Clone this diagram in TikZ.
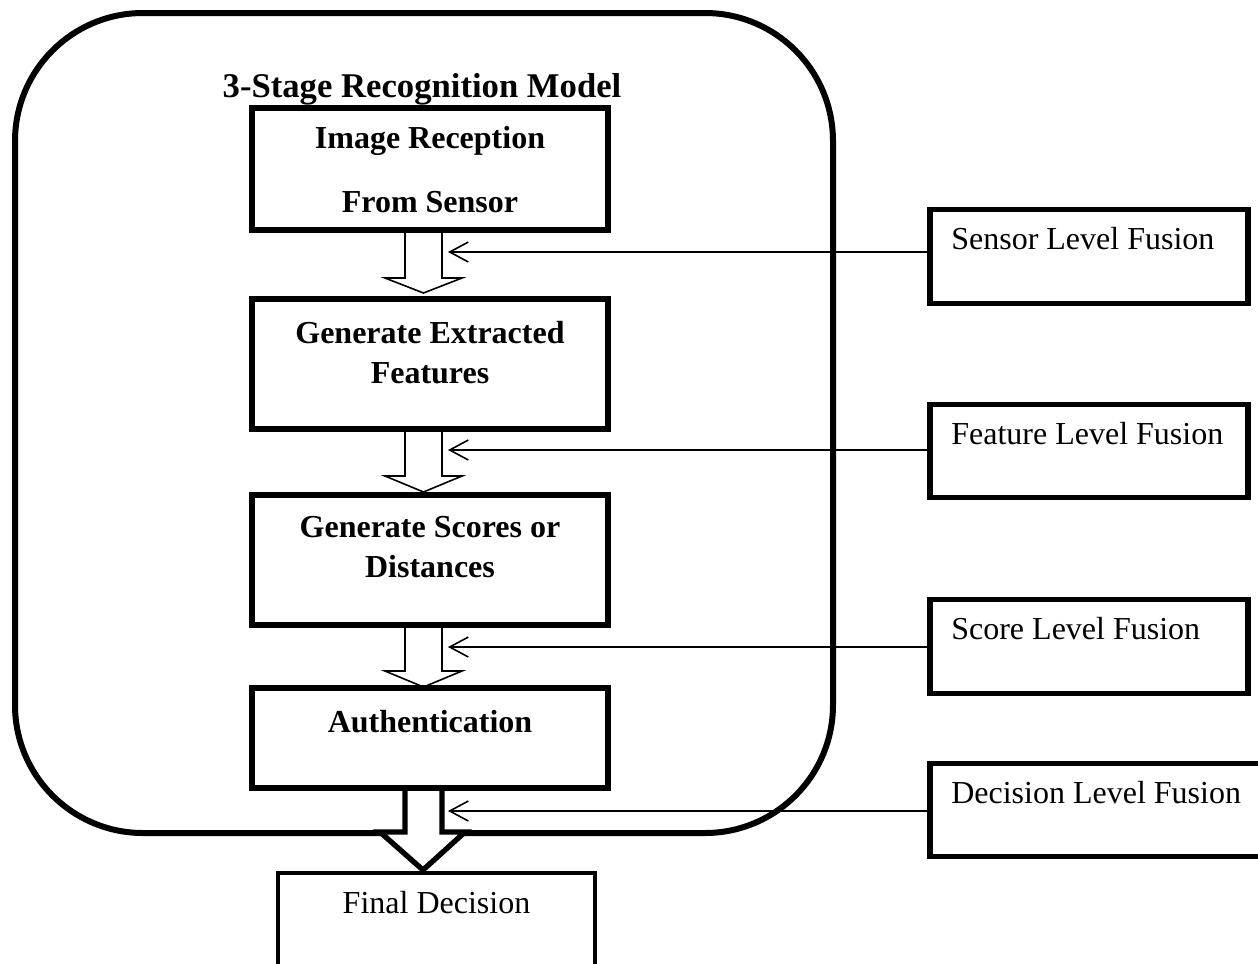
\documentclass[tikz,border=0pt]{standalone}
\usepackage{fontspec}
\setmainfont{Liberation Serif}
\usetikzlibrary{arrows.meta,positioning,calc}
\tikzset{stage/.style={draw,line width=2.4pt,inner sep=0pt,text width=133.5pt,align=flush center,font=\fontsize{12}{15}\selectfont\bfseries,text height=16pt},fusion/.style={draw,line width=1.9pt,inner xsep=8pt,inner ysep=0pt,text width=103.25pt,align=flush left,font=\fontsize{12}{15}\selectfont,text height=15pt,text depth=20pt},outcome/.style={draw,line width=1.7pt,inner sep=0pt,text width=118.9pt,align=flush center,font=\fontsize{12}{15}\selectfont,text height=15pt,text depth=45pt},hollow/.style={draw,line width=0.6pt,fill=white,line join=miter},feed/.style={-{Straight Barb[length=7pt,width=7.5pt]},line width=0.6pt}}
\begin{document}
\begin{tikzpicture}[x=0.375pt,y=-0.375pt]
\useasboundingbox (0,0) rectangle (1258,963);
\clip (0,0) rectangle (1258,963);
\draw[line width=2.25pt,rounded corners=48pt] (15,13) rectangle (833,833);
\node[font=\fontsize{13}{15}\selectfont\bfseries,anchor=base] (title) at (422,97) {3-Stage Recognition Model};
\draw[hollow] (405,230) -- (405,278) -- (385,278) -- (423.5,293) -- (462,278) -- (442,278) -- (442,230);
\draw[hollow] (405,429) -- (405,476) -- (385,476) -- (423.5,492) -- (462,476) -- (442,476) -- (442,429);
\draw[hollow] (405,625) -- (405,671) -- (385,671) -- (423.5,687) -- (462,671) -- (442,671) -- (442,625);
\draw[hollow,line width=2pt] (405,788) -- (405,832) -- (380,832) -- (423,870) -- (465,832) -- (442,832) -- (442,788);
\node[stage,text height=15pt,text depth=30.75pt] (img) at (430,169) {Image Reception\\[9pt]From Sensor};
\node[stage,text height=16.5pt,text depth=32.25pt] (feat) at (430,364) {Generate Extracted\\Features};
\node[stage,text height=15.75pt,text depth=33pt] (score) at (430,560) {Generate Scores or\\Distances};
\node[stage,text height=16.5pt,text depth=21pt] (auth) at (430,738) {Authentication};
\node[outcome] (final) at (436.5,953) {Final Decision};
\node[fusion] (sensorfus) at (1089,256.5) {Sensor Level Fusion};
\node[fusion] (featfus) at (1089,451) {Feature Level Fusion};
\node[fusion] (scorefus) at (1089,646.5) {Score Level Fusion};
\node[fusion,text width=113.4pt] (decfus) at (1102.5,810) {Decision Level Fusion};
\coordinate (in1) at (448,252);
\coordinate (in2) at (448,450);
\coordinate (in3) at (448,647);
\coordinate (in4) at (448,811);
\draw[feed] (sensorfus.west |- in1) -- (in1);
\draw[feed] (featfus.west |- in2) -- (in2);
\draw[feed] (scorefus.west |- in3) -- (in3);
\draw[feed] (decfus.west |- in4) -- (in4);
\end{tikzpicture}
\end{document}
